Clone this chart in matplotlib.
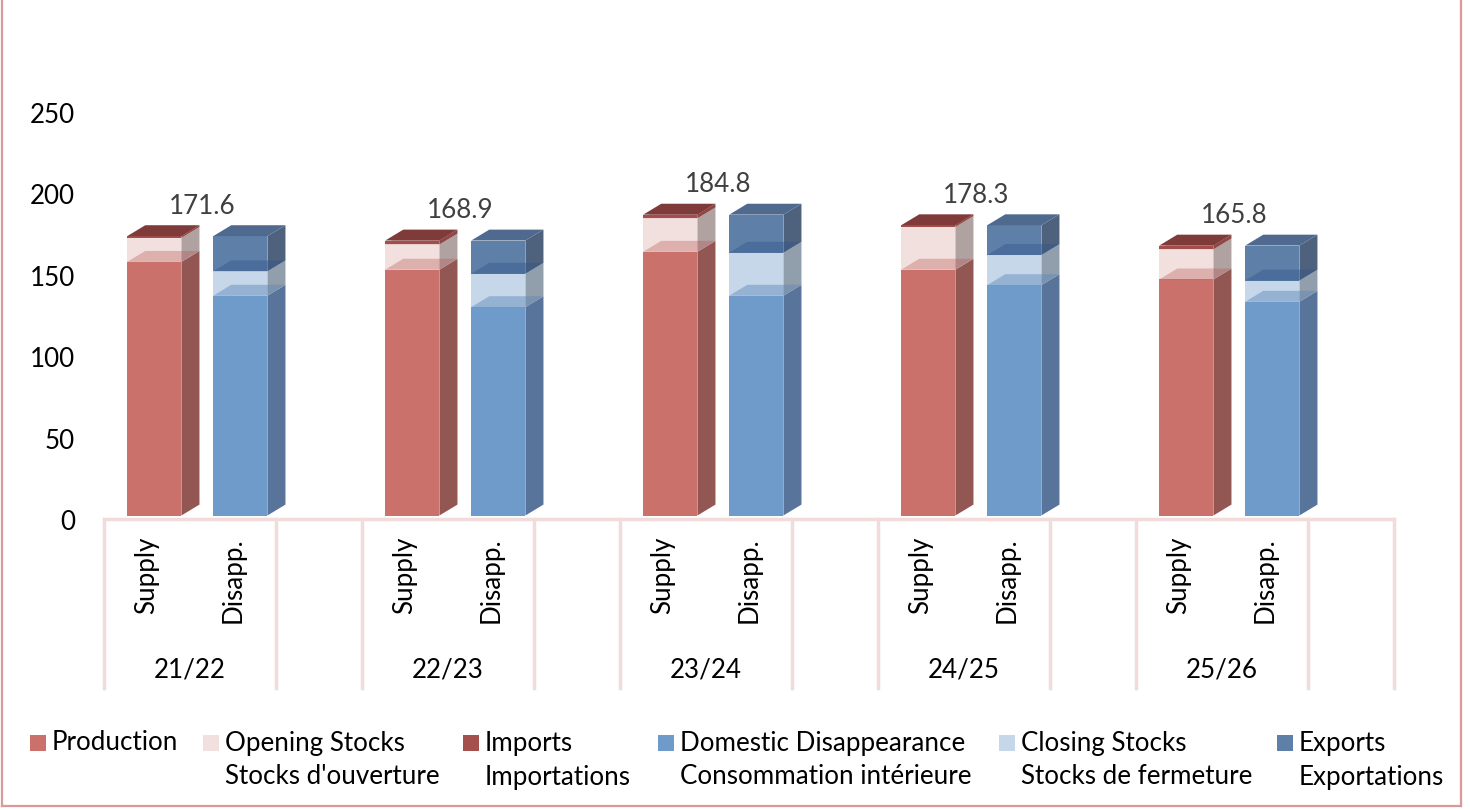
import matplotlib
matplotlib.use("Agg")
import matplotlib.pyplot as plt
import matplotlib.transforms as mtransforms
from matplotlib.patches import Polygon, Rectangle
from matplotlib.transforms import blended_transform_factory
from matplotlib.lines import Line2D

# ---------------- data ----------------
years = ['21/22', '22/23', '23/24', '24/25', '25/26']
bar_names = ['Supply', 'Disapp.']
production = [155.8, 151.0, 162.0, 151.0, 145.0]
opening_stocks = [14.8, 15.5, 20.6, 26.3, 18.5]
imports = [1.0, 2.4, 2.2, 1.0, 2.3]
domestic = [135.0, 128.0, 135.0, 141.5, 131.3]
closing_stocks = [15.0, 20.5, 26.4, 18.5, 13.0]
exports = [21.6, 20.4, 23.4, 18.3, 21.5]
totals = [171.6, 168.9, 184.8, 178.3, 165.8]
yticks = [0, 50, 100, 150, 200, 250]

legend_en = ['Production', 'Opening Stocks', 'Imports', 'Domestic Disappearance',
             'Closing Stocks', 'Exports']
legend_fr = ['', "Stocks d'ouverture", 'Importations', 'Consommation intérieure',
             'Stocks de fermeture', 'Exportations']

# ---------------- style ----------------
FONT = ['Lato', 'DejaVu Sans']
plt.rcParams['font.family'] = FONT
FS = 18.7

W, H = 1470, 810
fig = plt.figure(figsize=(W / 100, H / 100), dpi=100)
Y0 = 515.5          # pixel row of value 0 for the bars (3-D floor)
ax = fig.add_axes([104 / W, (H - Y0) / H, 1290 / W, 407 / H])
ax.set_xlim(-0.5, 14.5)
ax.set_ylim(0, 250)
for s in ax.spines.values():
    s.set_visible(False)
ax.set_xticks([])
ax.set_yticks(yticks)
ax.tick_params(axis='y', length=0, pad=21, labelsize=FS, labelcolor='black')
off = mtransforms.ScaledTranslation(0, -4.5 / 100, fig.dpi_scale_trans)
for lab in ax.get_yticklabels():
    lab.set_transform(lab.get_transform() + off)

# series colours: front, side, top colour, top alpha
supply_series = [
    (production, '#CB716C', '#925653', '#B85450', 0.35),
    (opening_stocks, '#F2E0DF', '#B0A2A1', '#9E4A47', 0.30),
    (imports, '#A5504D', '#8A4644', '#7E3B39', 1.0),
]
disapp_series = [
    (domestic, '#6E9BC9', '#59749A', '#5D86B8', 0.45),
    (closing_stocks, '#C5D7E8', '#919EAB', '#2F5289', 0.40),
    (exports, '#5D7FA8', '#4E627D', '#4F6A8E', 1.0),
]

bw = 0.63
shift = 0.085
dx = 0.21
dy = 6.7

n = len(years)
groups = [(0, supply_series), (1, disapp_series)]
for slot, series in groups:
    xs = [3 * i + slot + shift for i in range(n)]
    bottoms = [0.0] * n
    tops_to_draw = []
    for k, (vals, fc, sc, tc, ta) in enumerate(series):
        bars = ax.bar(xs, vals, width=bw, bottom=bottoms, color=fc,
                      edgecolor='none', zorder=2)
        for p in bars.patches:
            x0 = p.get_x()
            x1 = x0 + p.get_width()
            b = p.get_y()
            t = b + p.get_height()
            side = Polygon([(x1, b), (x1 + dx, b + dy), (x1 + dx, t + dy), (x1, t)],
                           closed=True, facecolor=sc, edgecolor='none', zorder=2)
            ax.add_patch(side)
            tops_to_draw.append((x0, x1, t, tc, ta))
        bottoms = [bo + v for bo, v in zip(bottoms, vals)]
    for (x0, x1, t, tc, ta) in tops_to_draw:
        top = Polygon([(x0, t), (x0 + dx, t + dy), (x1 + dx, t + dy), (x1, t)],
                      closed=True, facecolor=tc, alpha=ta, edgecolor='none',
                      zorder=3 if ta < 1 else 4)
        ax.add_patch(top)

# data labels
for i, tot in enumerate(totals):
    ax.text(3 * i + 0.5 + shift + 0.06, tot + 18.3, f'{tot:.1f}', ha='center',
            va='center', fontsize=FS, color='#404040', zorder=5)

# category table below axis
tr = blended_transform_factory(ax.transData, fig.transFigure)
line_c = '#F2DCDB'
y_top = (H - 519) / H
y_bot = (H - 688) / H
bounds = [-0.5]
for i in range(n):
    bounds += [3 * i + 1.5, 3 * i + 2.5]
for xb in bounds:
    ax.add_line(Line2D([xb, xb], [y_top, y_bot], transform=tr, color=line_c,
                       lw=2.5, clip_on=False, zorder=1))
ax.add_line(Line2D([-0.5, 14.5], [y_top, y_top], transform=tr, color=line_c,
                   lw=2.5, clip_on=False, zorder=1))

for i, yr in enumerate(years):
    for slot, name in enumerate(bar_names):
        ax.text(3 * i + slot, (H - 537) / H, name, rotation=90, ha='center',
                va='top', transform=tr, fontsize=FS, color='black')
    ax.text(3 * i + 0.5, (H - 670) / H, yr, ha='center', va='center',
            transform=tr, fontsize=FS, color='black')

# legend (manual, two-line labels with marker at first line)
leg_colors = ['#CB716C', '#F2E0DF', '#A5504D', '#6E9BC9', '#C5D7E8', '#5D7FA8']
marker_x = [30, 203, 463, 658, 999, 1277]
for mx, col, en, fr in zip(marker_x, leg_colors, legend_en, legend_fr):
    fig.add_artist(Rectangle((mx / W, (H - 751) / H), 16 / W, 16 / H,
                             transform=fig.transFigure, facecolor=col,
                             edgecolor='none'))
    fig.text((mx + 22) / W, (H - 743) / H, en, ha='left', va='center',
             fontsize=FS, color='black')
    if fr:
        fig.text((mx + 22) / W, (H - 777) / H, fr, ha='left', va='center',
                 fontsize=FS, color='black')

# outer border (left, right, bottom)
bc = '#D99A99'
fig.add_artist(Line2D([2 / W, 2 / W], [1, 4 / H], transform=fig.transFigure,
                      color=bc, lw=1.6))
fig.add_artist(Line2D([1461 / W, 1461 / W], [1, 4 / H], transform=fig.transFigure,
                      color=bc, lw=1.6))
fig.add_artist(Line2D([2 / W, 1461 / W], [4 / H, 4 / H], transform=fig.transFigure,
                      color=bc, lw=1.6))

fig.savefig('out.png', dpi=100, facecolor='white')
